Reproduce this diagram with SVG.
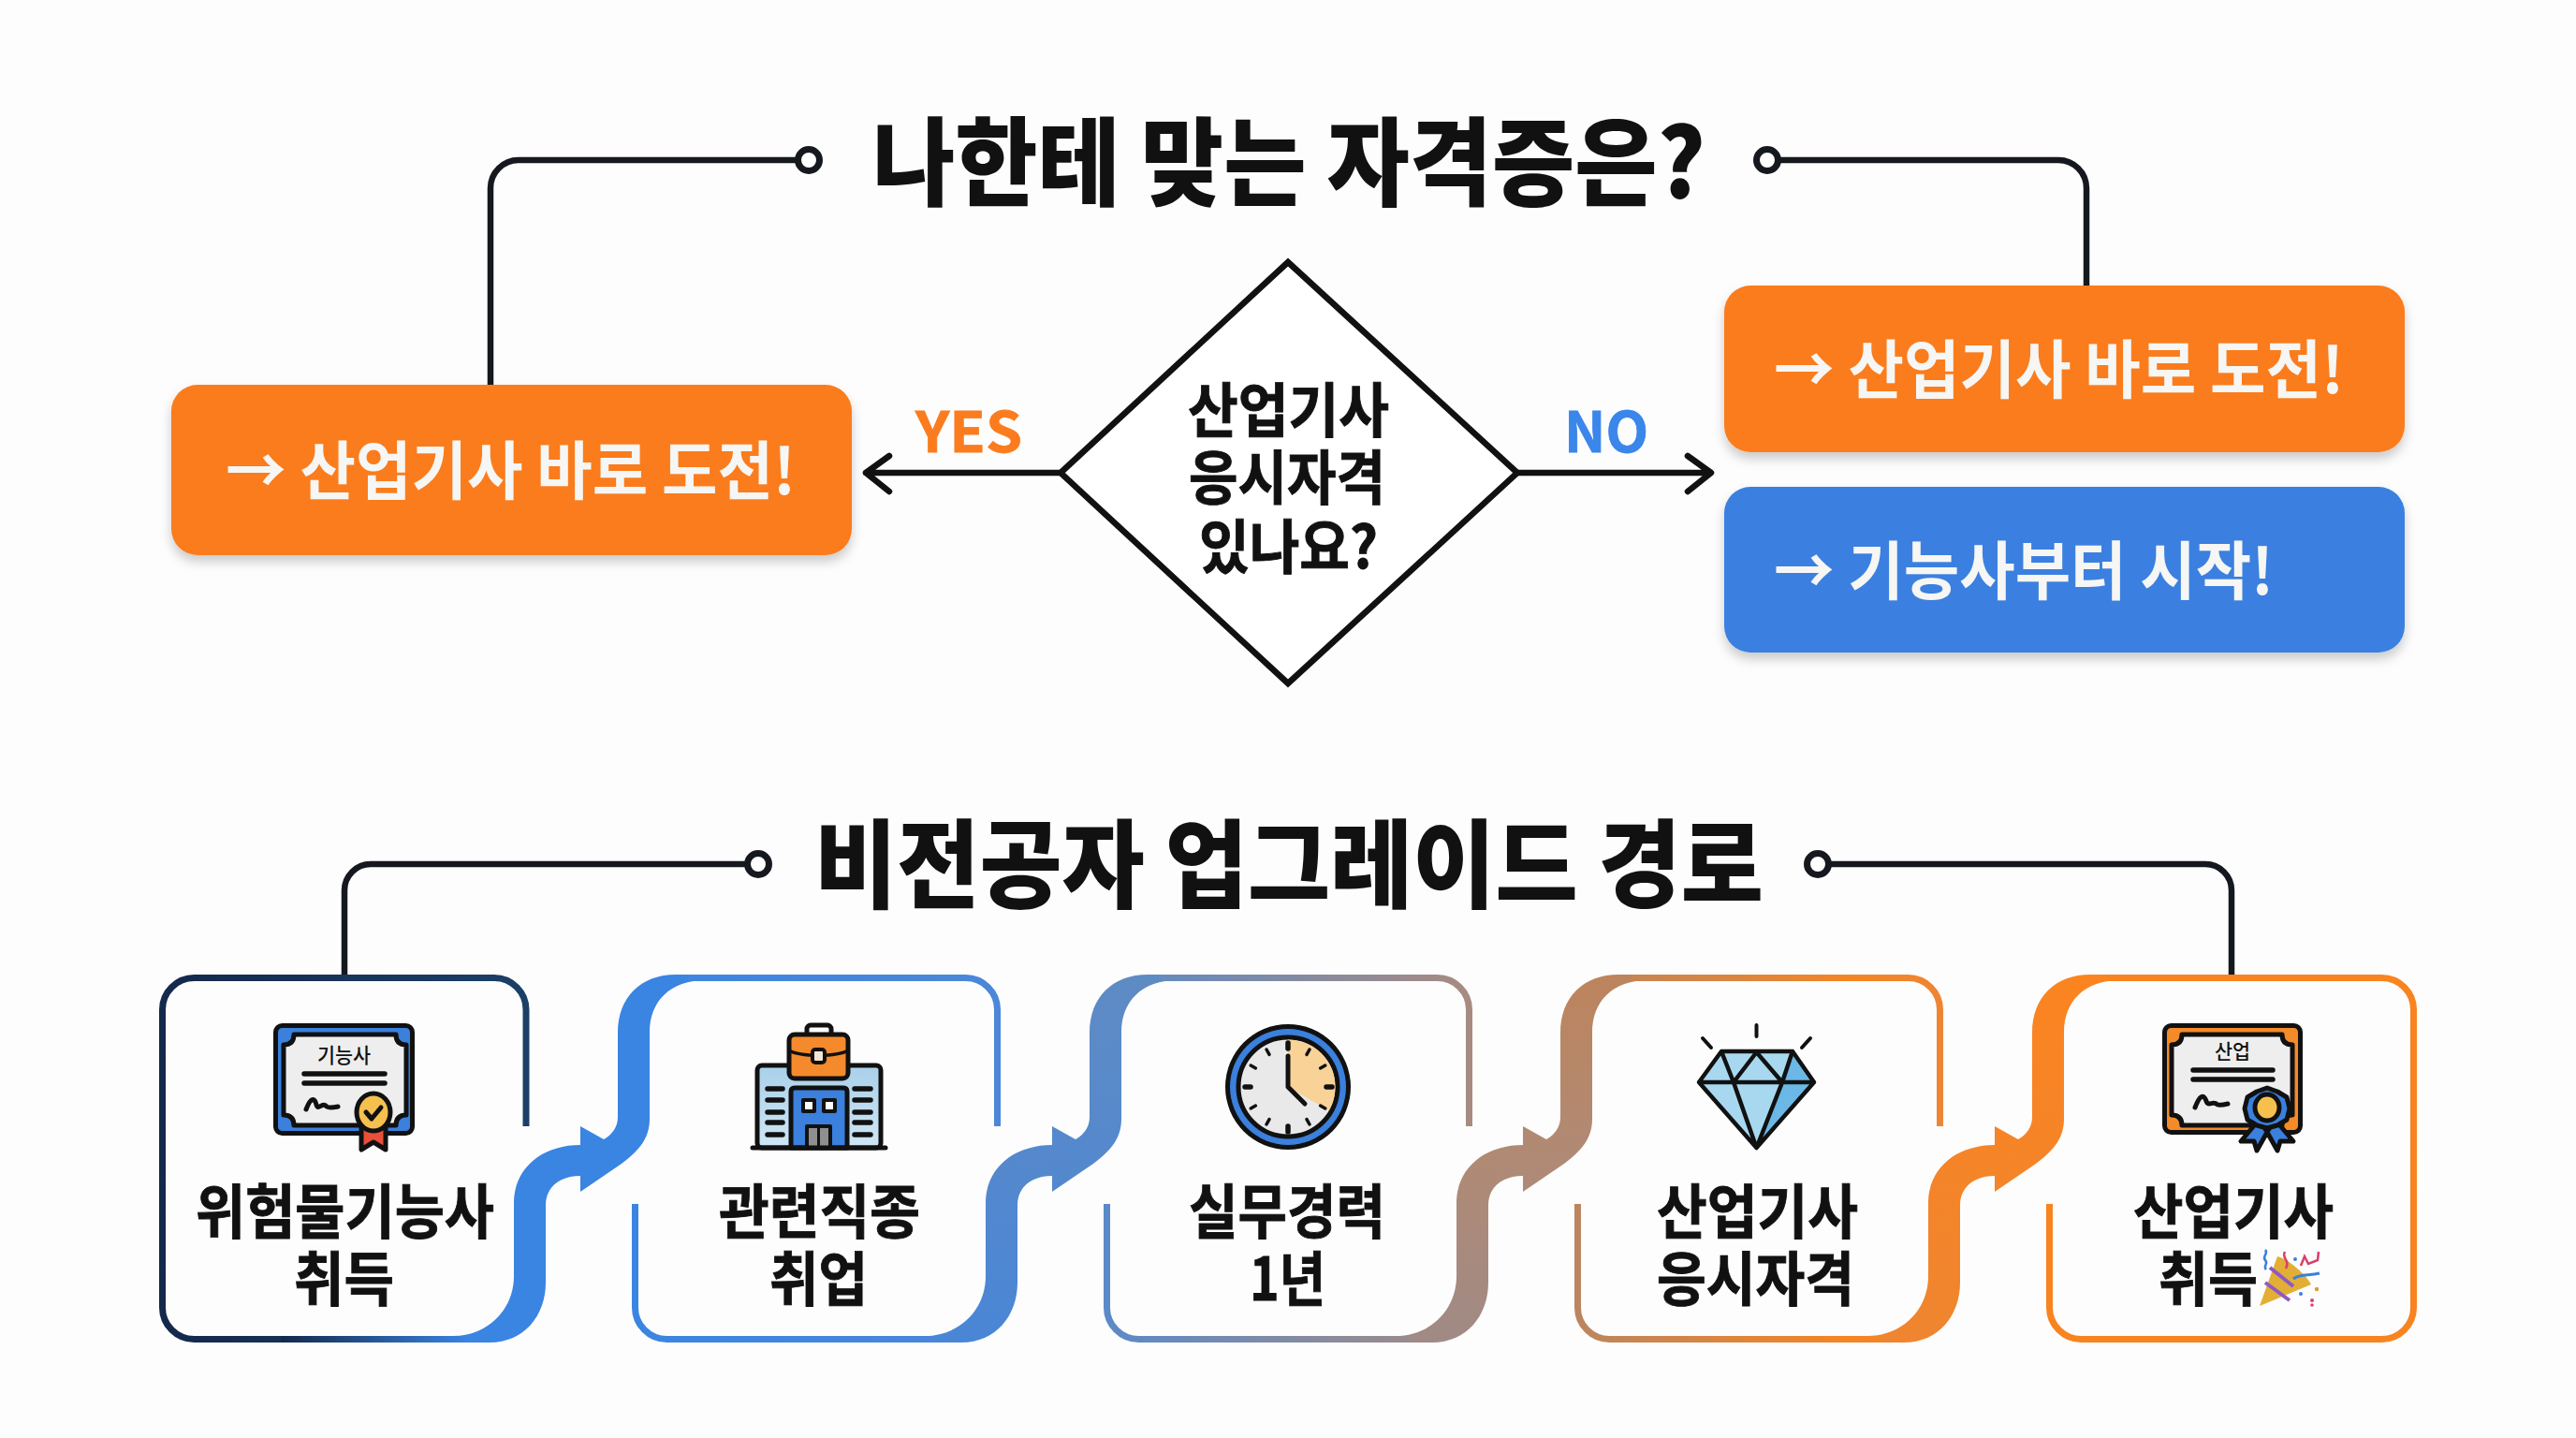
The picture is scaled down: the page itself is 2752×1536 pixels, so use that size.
<svg xmlns="http://www.w3.org/2000/svg" width="2752" height="1536" viewBox="0 0 2752 1536">
<style>
text{font-family:"Noto Sans CJK KR","Noto Sans",sans-serif;fill:#111}
.title{font-size:103px;font-weight:900}
.label{font-size:63px;font-weight:700;stroke:#111;stroke-width:0.9}
.btn{font-size:68px;font-weight:700;fill:#f6f6f4}
.yn{font-size:60px;font-weight:700}
.tiny{font-size:22px;font-weight:500}
.conn{fill:none;stroke:#15181e;stroke-width:6.5}
.dot{fill:#fff;stroke:#15181e;stroke-width:7}
.frame{fill:none;stroke-width:7}
.ink{stroke:#111;stroke-width:5;stroke-linejoin:round;stroke-linecap:round}
.line{fill:none;stroke:#111;stroke-width:5;stroke-linecap:round;stroke-linejoin:round}
.bar{fill:none;stroke:#111;stroke-width:5.5;stroke-linecap:round}
</style>
<defs>
<filter id="shadow" x="-5%" y="-10%" width="110%" height="130%"><feDropShadow dx="0" dy="7" stdDeviation="6" flood-color="#000" flood-opacity="0.2"/></filter>
<linearGradient id="t1" gradientUnits="userSpaceOnUse" x1="170" y1="0" x2="566" y2="0"><stop offset="0" stop-color="#14284b"/><stop offset="1" stop-color="#1b4068"/></linearGradient>
<linearGradient id="b1" gradientUnits="userSpaceOnUse" x1="300" y1="0" x2="500" y2="0"><stop offset="0" stop-color="#14284b"/><stop offset="1" stop-color="#3a84e2"/></linearGradient>
<linearGradient id="f2" gradientUnits="userSpaceOnUse" x1="675" y1="0" x2="1069" y2="0"><stop offset="0" stop-color="#3a85e2"/><stop offset="1" stop-color="#4c87d8"/></linearGradient>
<linearGradient id="f3" gradientUnits="userSpaceOnUse" x1="1179" y1="0" x2="1573" y2="0"><stop offset="0" stop-color="#5a8ac8"/><stop offset="1" stop-color="#a88b80"/></linearGradient>
<linearGradient id="f4" gradientUnits="userSpaceOnUse" x1="1682" y1="0" x2="2076" y2="0"><stop offset="0" stop-color="#bb8560"/><stop offset="0.75" stop-color="#f58524"/><stop offset="1" stop-color="#ee8534"/></linearGradient>
<linearGradient id="r2" gradientUnits="userSpaceOnUse" x1="0" y1="1434" x2="0" y2="1041"><stop offset="0" stop-color="#4a86d6"/><stop offset="1" stop-color="#5f8bc4"/></linearGradient>
<linearGradient id="r3" gradientUnits="userSpaceOnUse" x1="0" y1="1434" x2="0" y2="1041"><stop offset="0" stop-color="#a08a85"/><stop offset="0.5" stop-color="#b08a75"/><stop offset="1" stop-color="#bd845c"/></linearGradient>
<linearGradient id="r4" gradientUnits="userSpaceOnUse" x1="0" y1="1434" x2="0" y2="1041"><stop offset="0" stop-color="#ef8530"/><stop offset="1" stop-color="#fb8420"/></linearGradient>
<linearGradient id="bld" x1="0" y1="0" x2="0" y2="1"><stop offset="0" stop-color="#a9d0ea"/><stop offset="1" stop-color="#cfe6f4"/></linearGradient>
<path id="ribbon" d="M480,1434 H523 C560,1434 583,1405 583,1370 V1287 C583,1268 598,1256 620,1256 V1273 L664,1243 C684,1228 694,1215 694,1195 V1103 C694,1070 715,1047 755,1047 H770 V1041 H722 C685,1041 660,1065 660,1103 V1193 C660,1204 654,1212 645,1217 L620,1203 V1223 C580,1223 549,1247 549,1285 V1363 C549,1400 520,1427 484,1427 Z"/>
</defs>
<rect width="2752" height="1536" fill="#fdfdfd"/>

<g id="connectors">
<path class="conn" d="M524,411 V201 A30,30 0 0 1 554,171 H852"/>
<circle class="dot" cx="864" cy="171" r="11.5"/>
<path class="conn" d="M2229,305 V201 A30,30 0 0 0 2199,171 H1900"/>
<circle class="dot" cx="1888" cy="171" r="11.5"/>
<path class="conn" d="M368,1041 V951 A28,28 0 0 1 396,923 H798"/>
<circle class="dot" cx="810" cy="923" r="11.5"/>
<path class="conn" d="M2384,1041 V951 A28,28 0 0 0 2356,923 H1954"/>
<circle class="dot" cx="1942" cy="923" r="11.5"/>
<path class="line" style="stroke-width:6.5" d="M1134,505 H925 M950,487 L925,505 L950,525"/>
<path class="line" style="stroke-width:6.5" d="M1620,505 H1827 M1803,487 L1828,505 L1803,525"/>
<use href="#ribbon" fill="#3a84e2"/>
<use href="#ribbon" x="504" fill="url(#r2)"/>
<use href="#ribbon" x="1007" fill="url(#r3)"/>
<use href="#ribbon" x="1511" fill="url(#r4)"/>
</g>

<g id="title-1"><text class="title" x="932" y="212" textLength="890" lengthAdjust="spacingAndGlyphs">나한테 맞는 자격증은?</text></g>
<g id="title-2"><text class="title" x="870" y="962" textLength="1014" lengthAdjust="spacingAndGlyphs">비전공자 업그레이드 경로</text></g>

<g id="box-yes"><rect x="183" y="411" width="727" height="182" rx="28" fill="#fb7c1e" filter="url(#shadow)"/>
<text class="btn" x="241" y="528" textLength="609" lengthAdjust="spacingAndGlyphs">→ 산업기사 바로 도전!</text></g>
<g id="box-no-1"><rect x="1842" y="305" width="727" height="178" rx="28" fill="#fb7c1e" filter="url(#shadow)"/>
<text class="btn" x="1895" y="420" textLength="609" lengthAdjust="spacingAndGlyphs">→ 산업기사 바로 도전!</text></g>
<g id="box-no-2"><rect x="1842" y="520" width="727" height="177" rx="28" fill="#3a80e0" filter="url(#shadow)"/>
<text class="btn" x="1895" y="635" textLength="534" lengthAdjust="spacingAndGlyphs">→ 기능사부터 시작!</text></g>

<g id="decision">
<polygon points="1376,280 1621,505 1376,730 1133,505" fill="#fff" stroke="#111" stroke-width="6.5" stroke-linejoin="miter"/>
<text class="label" x="1269" y="461" textLength="215" lengthAdjust="spacingAndGlyphs">산업기사</text>
<text class="label" x="1270" y="533" textLength="210" lengthAdjust="spacingAndGlyphs">응시자격</text>
<text class="label" x="1281" y="607" textLength="191" lengthAdjust="spacingAndGlyphs">있나요?</text>
</g>
<g id="label-yes"><text class="yn" x="978" y="483" textLength="114" lengthAdjust="spacingAndGlyphs" style="fill:#fb7c1e;stroke:#fb7c1e;stroke-width:0.8">YES</text></g>
<g id="label-no"><text class="yn" x="1671" y="483" textLength="90" lengthAdjust="spacingAndGlyphs" style="fill:#3a86ea;stroke:#3a86ea;stroke-width:0.8">NO</text></g>

<g id="node-1">
<path class="frame" style="stroke:url(#t1)" d="M562,1203 V1079 A34,34 0 0 0 528,1044.5 H208 A34,34 0 0 0 173.5,1079 V1396 A34,34 0 0 0 208,1430.5 H300"/>
<path class="frame" d="M300,1430.5 H500" style="stroke:url(#b1)"/>
<rect class="ink" x="294.5" y="1095.5" width="146" height="115" rx="7" fill="#3a80dc"/>
<path class="ink" fill="#eeeeee" d="M314,1105 H423 Q423,1116 434,1116 V1191 Q423,1191 423,1202 H314 Q314,1191 303,1191 V1116 Q314,1116 314,1105Z"/>
<text class="tiny" x="339" y="1135" textLength="57" lengthAdjust="spacingAndGlyphs">기능사</text>
<path class="bar" d="M325,1147 H411 M325,1157 H411"/>
<path class="line" d="M327,1185 C332,1172 336,1172 338,1180 C340,1187 345,1176 349,1182 C352,1184 356,1183 361,1182"/>
<path class="ink" fill="#e8503a" d="M386,1204 H412 V1228 L399,1220 L386,1228Z"/>
<ellipse class="ink" cx="399" cy="1188" rx="18" ry="20" fill="#f5c04e"/>
<path class="line" d="M391,1188 L397,1195 L407,1183"/>
<text class="label" x="209" y="1317" textLength="319" lengthAdjust="spacingAndGlyphs">위험물기능사</text>
<text class="label" x="314" y="1389" textLength="107" lengthAdjust="spacingAndGlyphs">취득</text>
</g>

<g id="node-2">
<path class="frame" style="stroke:url(#f2)" d="M1065.5,1203 V1079 A34,34 0 0 0 1031,1044.5 H735"/>
<path class="frame" style="stroke:url(#f2)" d="M678.5,1286 V1396 A34,34 0 0 0 713,1430.5 H1005"/>
<rect class="ink" x="809" y="1138" width="132" height="88" rx="5" fill="url(#bld)"/>
<path class="bar" d="M820,1163 H836 M820,1175 H836 M820,1188 H836 M820,1199 H836 M820,1212 H836 M913,1163 H930 M913,1175 H930 M913,1188 H930 M913,1199 H930 M913,1212 H930"/>
<path class="ink" d="M845,1226 V1166 Q845,1162 849,1162 H901 Q905,1162 905,1166 V1226Z" fill="#3a80dc"/>
<rect class="ink" x="858" y="1175" width="12" height="12" fill="#fff" style="stroke-width:4"/>
<rect class="ink" x="880" y="1175" width="12" height="12" fill="#fff" style="stroke-width:4"/>
<rect class="ink" x="862" y="1203" width="25" height="23" fill="#8f8f8f" style="stroke-width:4"/>
<path class="line" style="stroke-width:3" d="M874.5,1203 V1226"/>
<path class="line" d="M804,1226 H946"/>
<rect class="ink" x="862" y="1095" width="26" height="14" rx="4" fill="#fff"/>
<rect class="ink" x="843" y="1105" width="63" height="47" rx="6" fill="#f58a2c"/>
<path class="line" style="stroke-width:3.5" d="M843,1122 C855,1129 894,1129 906,1122"/>
<rect class="ink" x="868" y="1121" width="13" height="14" rx="3" fill="#f3e6d2" style="stroke-width:4"/>
<text class="label" x="768" y="1317" textLength="215" lengthAdjust="spacingAndGlyphs">관련직종</text>
<text class="label" x="822" y="1389" textLength="105" lengthAdjust="spacingAndGlyphs">취업</text>
</g>

<g id="node-3">
<path class="frame" style="stroke:url(#f3)" d="M1569.5,1203 V1079 A34,34 0 0 0 1535,1044.5 H1239"/>
<path class="frame" style="stroke:url(#f3)" d="M1182.5,1286 V1396 A34,34 0 0 0 1217,1430.5 H1509"/>
<circle cx="1376" cy="1161" r="67" fill="#111"/>
<circle cx="1376" cy="1161" r="62" fill="#3a80dc"/>
<circle cx="1376" cy="1161" r="53" fill="#e9e9e9" stroke="#111" stroke-width="5"/>
<path d="M1376,1161 V1110.5 A50.5,50.5 0 0 1 1419.7,1186.2Z" fill="#f8d296"/>
<path class="bar" style="stroke-width:3.5" d="M1396,1126.4 L1399,1121 M1410.6,1141 L1415.8,1138 M1410.6,1181 L1415.8,1184 M1396,1195.6 L1399,1201 M1356,1195.6 L1353,1201 M1341.4,1181 L1336.2,1184 M1341.4,1141 L1336.2,1138 M1356,1126.4 L1353,1121"/>
<path class="bar" d="M1376,1114 V1120 M1376,1203 V1209 M1417,1161 H1423 M1330,1161 H1336"/>
<path class="line" d="M1376,1128 V1161 L1394,1179"/>
<text class="label" x="1270" y="1317" textLength="210" lengthAdjust="spacingAndGlyphs">실무경력</text>
<text class="label" x="1335" y="1389" textLength="81" lengthAdjust="spacingAndGlyphs">1년</text>
</g>

<g id="node-4">
<path class="frame" style="stroke:url(#f4)" d="M2072.5,1203 V1079 A34,34 0 0 0 2038,1044.5 H1742"/>
<path class="frame" style="stroke:url(#f4)" d="M1685.5,1286 V1396 A34,34 0 0 0 1720,1430.5 H2012"/>
<polygon points="1839,1123 1915,1123 1938,1156 1876.5,1226 1815,1156" fill="#a8d8f0"/>
<polygon points="1915,1123 1938,1156 1876.5,1226 1904,1156" fill="#6bb8e6"/>
<path class="line" style="stroke-width:4.5" d="M1839,1123 H1915 L1938,1156 L1876.5,1226 L1815,1156 Z M1815,1156 H1938 M1839,1123 L1852,1156 L1876.5,1226 L1904,1156 L1915,1123 M1852,1156 L1876.5,1124 L1904,1156"/>
<path class="line" style="stroke-width:4" d="M1876.5,1095 V1107 M1819,1109 L1828,1119 M1934,1109 L1925,1119"/>
<text class="label" x="1770" y="1317" textLength="215" lengthAdjust="spacingAndGlyphs">산업기사</text>
<text class="label" x="1770" y="1389" textLength="211" lengthAdjust="spacingAndGlyphs">응시자격</text>
</g>

<g id="node-5">
<path class="frame" stroke="#f88420" d="M2189.5,1286 V1396 A34,34 0 0 0 2224,1430.5 H2544 A34,34 0 0 0 2578.5,1396 V1079 A34,34 0 0 0 2544,1044.5 H2250"/>
<rect class="ink" x="2312.5" y="1095.5" width="145" height="114" rx="7" fill="#f48a28"/>
<path class="ink" fill="#eeeeee" d="M2331,1105 H2438 Q2438,1116 2449,1116 V1191 Q2438,1191 2438,1202 H2331 Q2331,1191 2320,1191 V1116 Q2331,1116 2331,1105Z"/>
<text class="tiny" x="2366" y="1131" textLength="38" lengthAdjust="spacingAndGlyphs">산업</text>
<path class="bar" d="M2343,1143 H2428 M2343,1153 H2428"/>
<path class="line" d="M2345,1183 C2350,1170 2354,1168 2357,1176 C2359,1183 2364,1175 2369,1180 C2372,1181 2376,1180 2380,1179"/>
<path class="ink" fill="#3a80dc" d="M2410,1200 L2394,1219 L2408,1219 L2411,1229 L2425,1204Z M2434,1200 L2450,1219 L2436,1219 L2433,1229 L2419,1204Z"/>
<polygon class="ink" fill="#3a80dc" points="2422,1162 2433,1166 2443,1172 2446,1184 2443,1196 2433,1202 2422,1205 2411,1202 2401,1196 2398,1184 2401,1172 2411,1166"/>
<ellipse class="ink" cx="2422" cy="1183" rx="13" ry="14" fill="#f5c04e"/>
<text class="label" x="2279" y="1317" textLength="214" lengthAdjust="spacingAndGlyphs">산업기사</text>
<text class="label" x="2306" y="1389" textLength="106" lengthAdjust="spacingAndGlyphs">취득</text>
<path d="M2414,1395 L2433,1342 C2445,1345 2464,1362 2469,1372Z" fill="#e3ae35"/>
<path d="M2420,1370 L2446,1389 M2425,1354 L2450,1374" fill="none" stroke="#8d5ac4" stroke-width="4"/>
<path d="M2420,1335 C2424,1339 2416,1342 2420,1346 C2424,1350 2417,1352 2421,1356" fill="none" stroke="#3a80dc" stroke-width="2.5"/>
<path d="M2441,1337 C2437,1345 2447,1345 2442,1355" fill="none" stroke="#d8406a" stroke-width="2.5"/>
<path d="M2458,1352 L2462,1342 L2466,1350 L2476,1346 L2477,1337" fill="none" stroke="#d8406a" stroke-width="2.5"/>
<path d="M2450,1366 C2458,1360 2466,1363 2478,1360" fill="none" stroke="#3a80dc" stroke-width="3"/>
<circle cx="2475" cy="1377" r="2.2" fill="#e09a30"/><circle cx="2470" cy="1389" r="2" fill="#d8406a"/><circle cx="2458" cy="1382" r="2" fill="#3a80dc"/><circle cx="2452" cy="1345" r="2" fill="#3a80dc"/><circle cx="2470" cy="1394" r="1.8" fill="#d8406a"/>
</g>
</svg>
